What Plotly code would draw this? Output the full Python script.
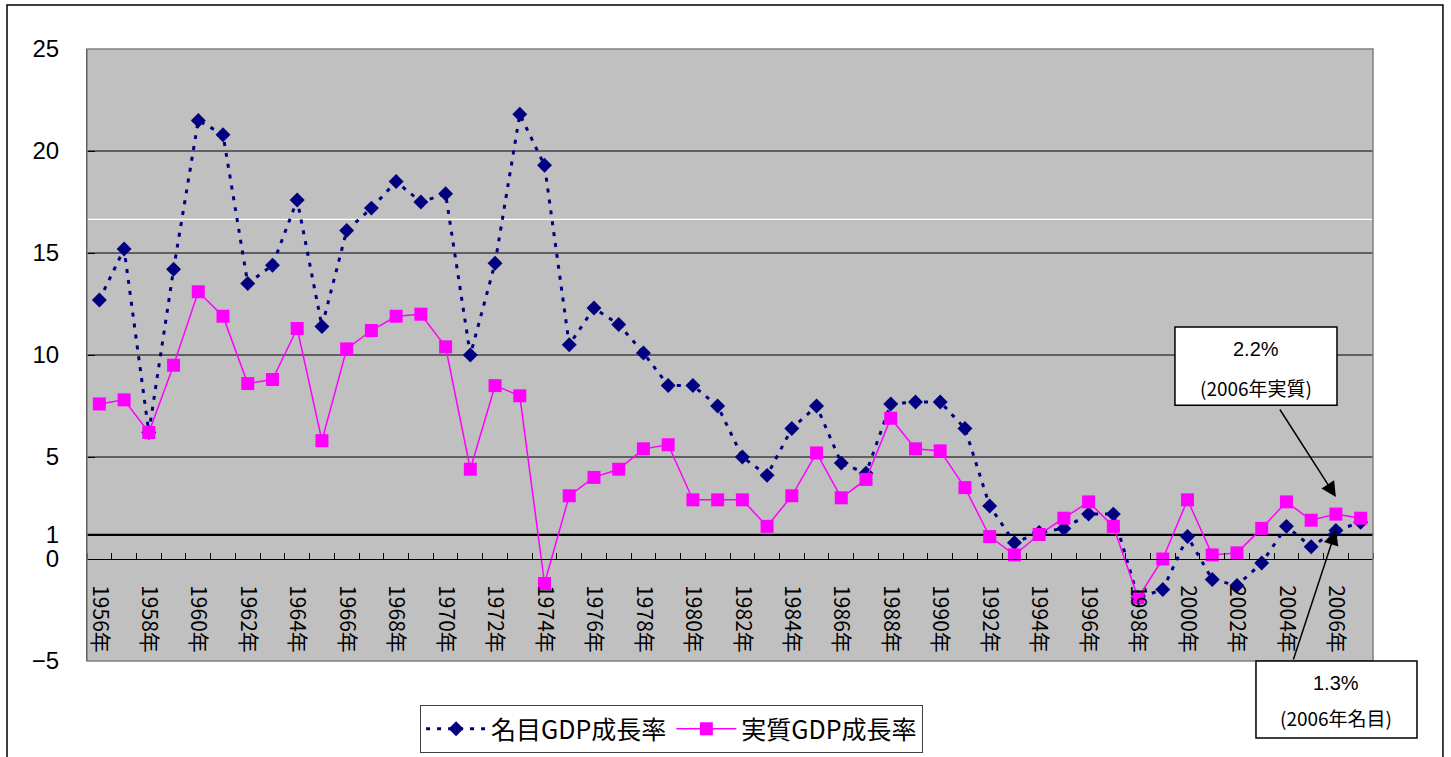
import plotly.graph_objects as go

years = list(range(1956, 2008))
nominal = [12.7, 15.2, 6.2, 14.2, 21.5, 20.8, 13.5, 14.4, 17.6, 11.4,
           16.1, 17.2, 18.5, 17.5, 17.9, 10.0, 14.5, 21.8, 19.3, 10.5,
           12.3, 11.5, 10.1, 8.5, 8.5, 7.5, 5.0, 4.1, 6.4, 7.5,
           4.7, 4.2, 7.6, 7.7, 7.7, 6.4, 2.6, 0.8, 1.3, 1.5,
           2.2, 2.2, -1.9, -1.5, 1.1, -1.0, -1.3, -0.2, 1.6, 0.6,
           1.4, 1.8]
real = [7.6, 7.8, 6.2, 9.5, 13.1, 11.9, 8.6, 8.8, 11.3, 5.8,
        10.3, 11.2, 11.9, 12.0, 10.4, 4.4, 8.5, 8.0, -1.2, 3.1,
        4.0, 4.4, 5.4, 5.6, 2.9, 2.9, 2.9, 1.6, 3.1, 5.2,
        3.0, 3.9, 6.9, 5.4, 5.3, 3.5, 1.1, 0.2, 1.2, 2.0,
        2.8, 1.6, -1.9, 0.0, 2.9, 0.2, 0.3, 1.5, 2.8, 1.9,
        2.2, 2.0]
tick_years = list(range(1956, 2007, 2))
tick_labels = [f"{y}年" for y in tick_years]
y_tickvals = [-5, 0, 1.18, 5, 10, 15, 20, 25]
y_ticktext = ["−5", "0", "1", "5", "10", "15", "20", "25"]
grid_values = [5, 10, 15, 20]
series_names = ["名目GDP成長率", "実質GDP成長率"]

JP = "Noto Sans CJK JP"
LAT = "Liberation Sans"

fig = go.Figure()
fig.add_trace(go.Scatter(
    x=years, y=nominal, name=series_names[0], mode="lines+markers",
    line=dict(color="#000080", width=3, dash="4px,7px"),
    marker=dict(symbol="diamond", size=11.5, color="#000080"),
))
fig.add_trace(go.Scatter(
    x=years, y=real, name=series_names[1], mode="lines+markers",
    line=dict(color="#FF00FF", width=1.5),
    marker=dict(symbol="square", size=13, color="#FF00FF"),
))

shapes = []
for g in grid_values:
    shapes.append(dict(type="line", xref="paper", yref="y", x0=0, x1=1, y0=g, y1=g,
                       line=dict(color="black", width=1), layer="below"))
shapes.append(dict(type="line", xref="paper", yref="y", x0=0, x1=1, y0=16.65, y1=16.65,
                   line=dict(color="white", width=1.2), layer="below"))
shapes.append(dict(type="line", xref="paper", yref="y", x0=0, x1=1, y0=1.18, y1=1.18,
                   line=dict(color="black", width=2.2), layer="below"))
# plot border
shapes.append(dict(type="rect", xref="paper", yref="paper", x0=0, x1=1, y0=0, y1=1,
                   line=dict(color="#808080", width=1.5), layer="above"))
# outer chart border
shapes.append(dict(type="rect", xref="paper", yref="paper", x0=-0.0622, x1=1.0544,
                   y0=-0.17, y1=1.0719, line=dict(color="black", width=1.5)))
# callout boxes
shapes.append(dict(type="rect", xref="paper", yref="paper", x0=0.846, x1=0.972,
                   y0=0.418, y1=0.5458, fillcolor="white", line=dict(color="black", width=1.5)))
shapes.append(dict(type="rect", xref="paper", yref="paper", x0=0.909, x1=1.0342,
                   y0=-0.1258, y1=0.0, fillcolor="white", line=dict(color="black", width=1.5)))

annotations = [
    dict(xref="paper", yref="paper", x=0.909, y=0.5098, text="2.2%", showarrow=False,
         xanchor="center", yanchor="middle",
         font=dict(family=LAT, size=20, color="black")),
    dict(xref="paper", yref="paper", x=0.909, y=0.4477, text="(2006年実質)", showarrow=False,
         xanchor="center", yanchor="middle",
         font=dict(family=JP, size=19, color="black")),
    dict(xref="paper", yref="paper", x=0.9715, y=-0.036, text="1.3%", showarrow=False,
         xanchor="center", yanchor="middle",
         font=dict(family=LAT, size=20, color="black")),
    dict(xref="paper", yref="paper", x=0.9715, y=-0.0931, text="(2006年名目)", showarrow=False,
         xanchor="center", yanchor="middle",
         font=dict(family=JP, size=19, color="black")),
    dict(xref="x", yref="y", x=2006, y=3.04, text="", showarrow=True, axref="pixel", ayref="pixel",
         ax=-57, ay=-89, arrowhead=2, arrowsize=2, arrowwidth=1.5, arrowcolor="black", standoff=0),
    dict(xref="x", yref="y", x=2006, y=1.42, text="", showarrow=True, axref="pixel", ayref="pixel",
         ax=-43, ay=131, arrowhead=2, arrowsize=2, arrowwidth=1.5, arrowcolor="black", standoff=0),
]

fig.update_layout(
    width=1451, height=757,
    margin=dict(l=87, r=78, t=49, b=96, autoexpand=False),
    paper_bgcolor="white",
    plot_bgcolor="#C0C0C0",
    shapes=shapes,
    annotations=annotations,
    showlegend=True,
    legend=dict(orientation="h", x=0.259, y=-0.0719, xanchor="left", yanchor="top",
                bordercolor="#404040", borderwidth=1, bgcolor="white",
                font=dict(family=JP, size=25, color="black"), itemwidth=60,
                tracegroupgap=0),
    xaxis=dict(range=[1955.5, 2007.5], anchor="free", position=5 / 30,
               tickmode="array", tickvals=tick_years, ticktext=tick_labels,
               tickangle=90, ticks="", showgrid=False, zeroline=False,
               showline=True, linecolor="black", linewidth=1,
               ticklabelstandoff=21,
               tickfont=dict(family=JP, size=21, color="black"),
               minor=dict(tick0=1955.5, dtick=1, ticks="inside", ticklen=6,
                          tickcolor="black", showgrid=False)),
    yaxis=dict(range=[-5, 25], tickmode="array", tickvals=y_tickvals, ticktext=y_ticktext,
               showgrid=False, zeroline=False, showline=True, linecolor="black", linewidth=1,
               ticks="inside", ticklen=8, tickcolor="black", ticklabelstandoff=22,
               tickfont=dict(family=LAT, size=24, color="black")),
)

fig.write_html("out.html", config={"displayModeBar": False},
               post_script="document.body.style.margin='0';document.body.style.overflow='hidden';")
